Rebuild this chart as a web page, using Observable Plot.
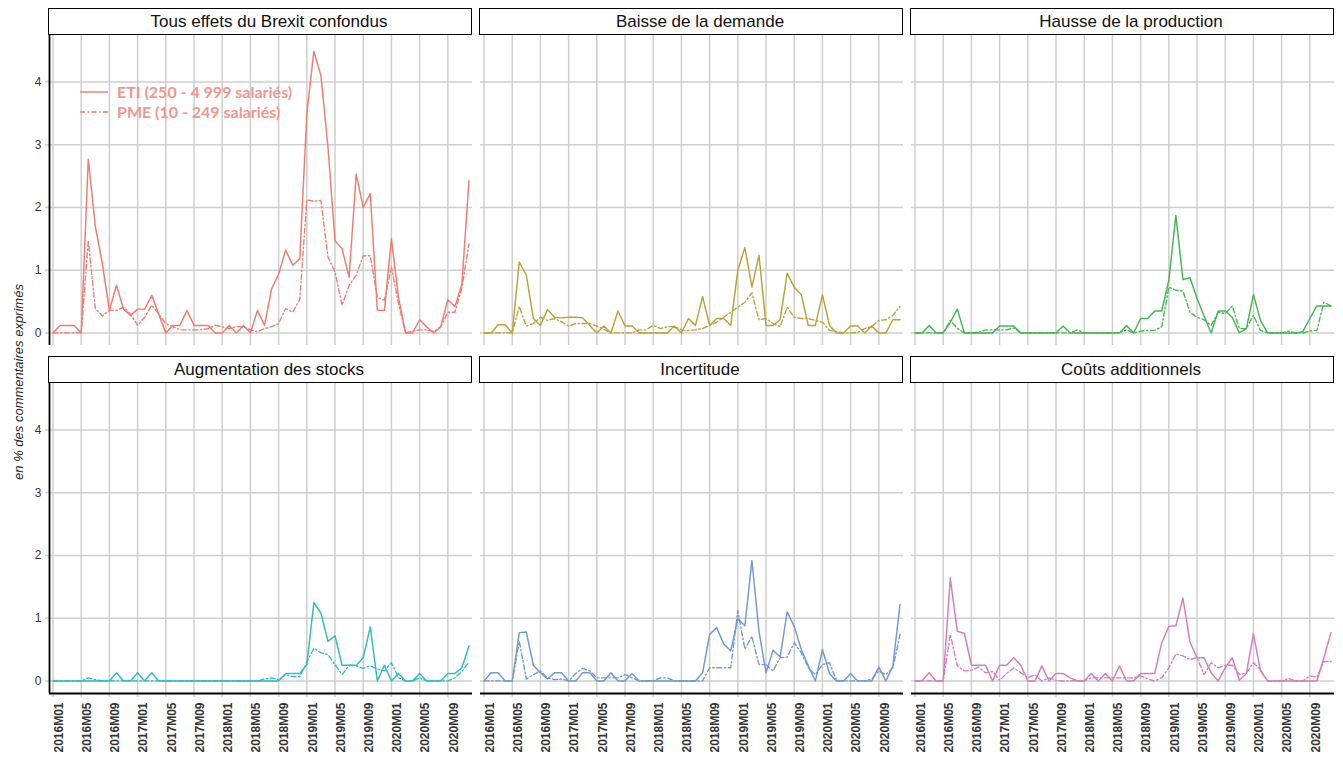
<!DOCTYPE html>
<html lang="fr">
<head>
<meta charset="utf-8">
<script src="https://cdn.jsdelivr.net/npm/d3@7"></script>
<script src="https://cdn.jsdelivr.net/npm/@observablehq/plot@0.6"></script>
<style>
  html, body { margin: 0; padding: 0; background: #ffffff; }
  #chart { position: relative; width: 1343px; height: 757px; background: #ffffff; overflow: hidden;
           font-family: "Liberation Sans", Arial, sans-serif; }
  .hdr { position: absolute; box-sizing: border-box; border: 1.3px solid #000; background: #fff;
         font-size: 17px; color: #111; text-align: center; line-height: 25px; white-space: nowrap;
         padding-left: 18px; }
  .ytitle { position: absolute; font-size: 13px; font-style: italic; color: #222; white-space: nowrap;
            transform: translate(-50%, -50%) rotate(-90deg); }
  .legend { position: absolute; }
  svg.panel { position: absolute; overflow: visible; }
</style>
</head>
<body>
<div id="chart"></div>
<script>
// ---------- Data ----------
const years = [2016, 2017, 2018, 2019, 2020];
const months = [];
for (const y of years) for (let m = 1; m <= 12; m++) months.push(`${y}M${String(m).padStart(2, "0")}`);

const xTickIdx = [0, 4, 8, 12, 16, 20, 24, 28, 32, 36, 40, 44, 48, 52, 56];
const yTicks = [0, 1, 2, 3, 4];

const panelTitles = [
  "Tous effets du Brexit confondus",
  "Baisse de la demande",
  "Hausse de la production",
  "Augmentation des stocks",
  "Incertitude",
  "Coûts additionnels"
];
const seriesLabels = ["ETI (250 - 4 999 salariés)", "PME (10 - 249 salariés)"];

const tousETI = [0,0.12,0.12,0.12,0,2.77,1.7,1.1,0.36,0.76,0.38,0.28,0.38,0.38,0.6,0.3,0,0.12,0.12,0.36,0.12,0.12,0.12,0,0,0.12,0,0.12,0,0.36,0.12,0.7,0.94,1.32,1.08,1.18,3.49,4.49,4.1,2.96,1.47,1.34,0.89,2.53,2.0,2.22,0.36,0.36,1.5,0.57,0,0,0.21,0.1,0,0.1,0.53,0.42,0.78,2.43];
const tousPME = [0,0,0,0,0,1.47,0.39,0.27,0.36,0.36,0.41,0.3,0.12,0.25,0.44,0.3,0.15,0.1,0.05,0.05,0.05,0.05,0.07,0.12,0.1,0.07,0.1,0.1,0.05,0.02,0.07,0.1,0.15,0.39,0.33,0.53,2.12,2.1,2.11,1.21,0.97,0.44,0.76,0.92,1.23,1.23,0.57,0.52,1.05,0.47,0,0.03,0.05,0.05,0.02,0.1,0.33,0.33,0.72,1.42];

const demandeETI = [0,0,0.13,0.13,0,1.13,0.92,0.23,0.12,0.37,0.25,0.24,0.25,0.25,0.24,0.12,0,0.11,0,0.35,0.11,0.11,0,0,0,0,0,0.11,0,0.23,0.12,0.58,0.12,0.23,0.23,0.12,1.0,1.36,0.73,1.24,0.12,0.12,0.21,0.95,0.73,0.61,0.12,0.12,0.61,0.12,0,0,0.11,0.11,0,0.11,0,0,0.21,0.21];
const demandePME = [0,0,0,0,0,0.42,0.11,0.15,0.25,0.2,0.23,0.18,0.11,0.15,0.15,0.15,0.11,0.06,0,0,0,0,0.05,0.05,0.12,0.07,0.1,0.1,0.05,0.04,0.05,0.07,0.12,0.17,0.25,0.33,0.41,0.49,0.64,0.21,0.23,0.15,0.1,0.41,0.25,0.23,0.23,0.2,0.17,0.04,0.02,0,0,0.01,0.07,0.1,0.2,0.21,0.28,0.42];

const productionETI = [0,0,0.12,0,0,0.17,0.38,0,0,0,0,0,0.11,0.11,0.11,0,0,0,0,0,0,0.11,0,0,0,0,0,0,0,0,0.12,0,0.23,0.23,0.35,0.35,0.84,1.87,0.85,0.88,0.55,0.27,0,0.35,0.35,0.25,0,0.07,0.61,0.2,0,0,0,0,0,0.02,0.23,0.43,0.43,0.43];
const productionPME = [0,0,0,0,0,0.2,0.07,0,0,0.01,0.05,0.05,0.05,0.05,0.08,0,0,0,0,0,0,0,0,0.05,0,0,0,0,0,0,0.05,0,0.03,0.04,0.04,0.1,0.73,0.68,0.67,0.33,0.25,0.21,0.12,0.33,0.31,0.43,0.07,0.07,0.28,0.04,0,0,0,0.03,0,0,0.03,0.04,0.49,0.43];

const stocksETI = [0,0,0,0,0,0,0,0,0,0.13,0,0,0.13,0,0.13,0,0,0,0,0,0,0,0,0,0,0,0,0,0,0,0,0,0,0.12,0.12,0.12,0.26,1.25,1.08,0.63,0.72,0.25,0.25,0.25,0.37,0.86,0,0.25,0,0.12,0,0,0.12,0,0,0,0.12,0.12,0.21,0.56];
const stocksPME = [0,0,0,0,0,0.05,0.02,0,0,0,0,0,0,0,0,0,0,0,0,0,0,0,0,0,0,0,0,0,0,0,0.03,0.05,0.02,0.1,0.07,0.07,0.3,0.52,0.45,0.42,0.26,0.1,0.25,0.24,0.2,0.24,0.19,0.16,0.29,0.05,0,0,0.05,0,0,0,0,0.05,0.15,0.3];

const incertitudeETI = [0,0.13,0.13,0,0,0.77,0.78,0.25,0.13,0.03,0.13,0.13,0,0,0.13,0.13,0,0,0.13,0,0,0.12,0,0,0,0,0,0,0,0,0,0.13,0.74,0.85,0.59,0.48,0.99,0.88,1.92,0.79,0.13,0.49,0.38,1.1,0.87,0.5,0.24,0,0.5,0.12,0,0,0.12,0,0,0,0.22,0,0.24,1.22];
const incertitudePME = [0,0,0,0,0,0.63,0.03,0.1,0.16,0.05,0.02,0.03,0,0.12,0.2,0.16,0.05,0.05,0.05,0.05,0.1,0.05,0,0,0,0.05,0.05,0,0,0,0,0,0.21,0.21,0.21,0.21,1.12,0.51,0.71,0.26,0.26,0.16,0.37,0.38,0.61,0.45,0.21,0.1,0.26,0.29,0.01,0,0,0,0,0.03,0.16,0.1,0.21,0.74];

const coutsETI = [0,0,0.13,0,0,1.64,0.79,0.76,0.25,0.25,0.25,0,0.25,0.25,0.37,0.25,0,0,0.24,0,0.12,0.12,0.05,0,0,0.12,0,0.12,0,0.24,0,0,0.12,0.12,0.12,0.61,0.87,0.88,1.32,0.62,0.37,0.37,0.13,0,0.21,0.37,0.01,0.12,0.75,0.16,0,0,0,0,0,0,0,0,0.37,0.77];
const coutsPME = [0,0,0,0,0,0.74,0.24,0.16,0.17,0.22,0.13,0.15,0.01,0.12,0.21,0.13,0.05,0.1,0,0.05,0.01,0,0,0,0,0.05,0.05,0.05,0.05,0.05,0.05,0.05,0.08,0.03,0,0.05,0.21,0.43,0.4,0.34,0.37,0.1,0.29,0.21,0.25,0.25,0.1,0.13,0.29,0.18,0,0,0,0.04,0,0,0.08,0.06,0.31,0.31];

// ---------- Styling / layout ----------
const panelColors = ["#F4796F", "#BBA136", "#44B84F", "#2DBEC1", "#7099D6", "#D57BBF"];
const etiSeries = [tousETI, demandeETI, productionETI, stocksETI, incertitudeETI, coutsETI];
const pmeSeries = [tousPME, demandePME, productionPME, stocksPME, incertitudePME, coutsPME];

const colLeft = [49, 480, 911];
const rowTop = [35, 383];
const W = 423, H = 310, HDR = 27;
const xDomain = [-0.5, 59.5];
const yDomain = [-0.2, 4.74];
const FONT = '"Liberation Sans", Arial, sans-serif';
const GRID = "#cfcfcf";

const chart = document.getElementById("chart");

panelTitles.forEach((title, p) => {
  const r = Math.floor(p / 3), c = p % 3;
  const ML = c === 0 ? 49 : 0;
  const MB = r === 1 ? 64 : 0;
  const color = panelColors[p];

  const marks = [
    Plot.ruleY(yTicks, {stroke: GRID, strokeWidth: 1.5}),
    Plot.ruleX(xTickIdx, {stroke: GRID, strokeWidth: 1.5}),
    Plot.lineY(pmeSeries[p], {x: (d, i) => i, y: d => d, stroke: color, strokeWidth: 1.35,
      strokeDasharray: "5,2.5,1.5,2.5"}),
    Plot.lineY(etiSeries[p], {x: (d, i) => i, y: d => d, stroke: color, strokeWidth: 1.45})
  ];
  if (c === 0) {
    marks.push(Plot.ruleY(yTicks, {stroke: GRID, strokeWidth: 1.5, insetLeft: -4, insetRight: W}));
    marks.push(Plot.ruleX([xDomain[0]], {stroke: "#000", strokeWidth: 1.8}));
    marks.push(Plot.text(yTicks, {y: d => d, text: d => String(d), frameAnchor: "left", dx: -8,
      textAnchor: "end", fill: "#333", fontSize: 12}));
  }
  if (r === 1) {
    marks.push(Plot.ruleX(xTickIdx, {stroke: GRID, strokeWidth: 1.5, insetTop: H, insetBottom: -4}));
    marks.push(Plot.ruleY([yDomain[0]], {stroke: "#000", strokeWidth: 1.8}));
    marks.push(Plot.text(xTickIdx, {x: d => d, text: d => months[d], frameAnchor: "bottom", rotate: -90,
      textAnchor: "end", lineAnchor: "middle", dx: 6, dy: 9, fill: "#333", fontSize: 12, fontWeight: "bold"}));
  }

  const svg = Plot.plot({
    width: W + ML, height: H + MB,
    marginLeft: ML, marginRight: 0, marginTop: 0, marginBottom: MB,
    x: {domain: xDomain, axis: null},
    y: {domain: yDomain, axis: null},
    style: {fontFamily: FONT, background: "transparent", overflow: "visible"},
    marks
  });
  svg.classList.add("panel");
  svg.style.left = (colLeft[c] - ML) + "px";
  svg.style.top = rowTop[r] + "px";
  chart.appendChild(svg);

  const hdr = document.createElement("div");
  hdr.className = "hdr";
  hdr.textContent = title;
  hdr.style.left = colLeft[c] - 1 + "px";
  hdr.style.top = (rowTop[r] - HDR) + "px";
  hdr.style.width = (W + 1) + "px";
  hdr.style.height = HDR + "px";
  chart.appendChild(hdr);
});

// y-axis title
const yt = document.createElement("div");
yt.className = "ytitle";
yt.textContent = "en % des commentaires exprimés";
yt.style.left = "18px";
yt.style.top = "382px";
chart.appendChild(yt);

// legend (inside first panel)
const legendColor = "#F4968C";
const ns = "http://www.w3.org/2000/svg";
const lg = document.createElementNS(ns, "svg");
lg.setAttribute("width", 260); lg.setAttribute("height", 40);
lg.setAttribute("class", "legend");
lg.style.left = "78px"; lg.style.top = "82px";
seriesLabels.forEach((lab, k) => {
  const y = 10 + k * 20;
  const ln = document.createElementNS(ns, "line");
  ln.setAttribute("x1", 2); ln.setAttribute("x2", 30); ln.setAttribute("y1", y); ln.setAttribute("y2", y);
  ln.setAttribute("stroke", legendColor); ln.setAttribute("stroke-width", 1.8);
  if (k === 1) ln.setAttribute("stroke-dasharray", "5,2.5,1.5,2.5");
  lg.appendChild(ln);
  const t = document.createElementNS(ns, "text");
  t.setAttribute("x", 39); t.setAttribute("y", y); t.setAttribute("dy", "0.35em");
  t.setAttribute("fill", legendColor);
  t.setAttribute("font-family", "Lato, 'Open Sans', sans-serif");
  t.setAttribute("font-weight", "bold"); t.setAttribute("font-size", 16);
  t.textContent = lab;
  lg.appendChild(t);
});
chart.appendChild(lg);
</script>
</body>
</html>
